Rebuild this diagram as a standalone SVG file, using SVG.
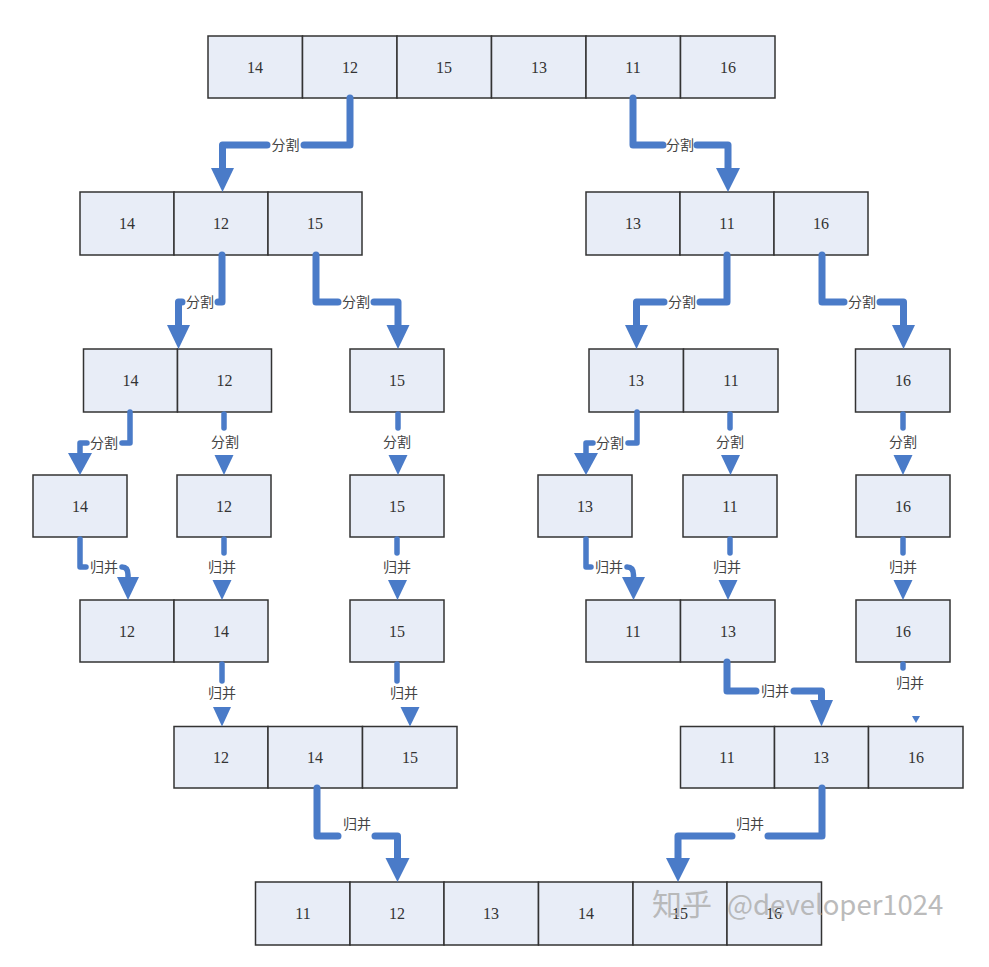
<svg xmlns="http://www.w3.org/2000/svg" width="989" height="967" viewBox="0 0 989 967">
<style>
.c{fill:#e8edf7;stroke:#333;stroke-width:1.5}
.n{font-family:"Liberation Serif",serif;font-size:16px;fill:#333;text-anchor:middle}
.l{font-family:"Noto Sans CJK SC",sans-serif;font-size:14px;fill:#444;text-anchor:middle}
.w{fill:none;stroke:#4a7bc8;stroke-width:7;stroke-linejoin:round;stroke-linecap:round}
.t{fill:none;stroke:#4a7bc8;stroke-width:5.5;stroke-linejoin:round;stroke-linecap:round}
.h{fill:#4a7bc8}
.wm{font-family:"Noto Sans CJK SC",sans-serif;fill:#b0b0b0;opacity:0.85}
</style>
<rect width="989" height="967" fill="#fff"/>

<g id="row1">
<rect class="c" x="208" y="36" width="94.5" height="62"/><rect class="c" x="302.5" y="36" width="94.5" height="62"/><rect class="c" x="397" y="36" width="94.5" height="62"/><rect class="c" x="491.5" y="36" width="94.5" height="62"/><rect class="c" x="586" y="36" width="94.5" height="62"/><rect class="c" x="680.5" y="36" width="94.5" height="62"/>
<text class="n" x="255" y="72.5">14</text><text class="n" x="350" y="72.5">12</text><text class="n" x="444" y="72.5">15</text><text class="n" x="539" y="72.5">13</text><text class="n" x="633" y="72.5">11</text><text class="n" x="728" y="72.5">16</text>
</g>

<g id="row2-left">
<rect class="c" x="80" y="192" width="94" height="63"/><rect class="c" x="174" y="192" width="94" height="63"/><rect class="c" x="268" y="192" width="94" height="63"/>
<text class="n" x="127" y="229">14</text><text class="n" x="221" y="229">12</text><text class="n" x="315" y="229">15</text>
</g>
<g id="row2-right">
<rect class="c" x="586" y="192" width="94" height="63"/><rect class="c" x="680" y="192" width="94" height="63"/><rect class="c" x="774" y="192" width="94" height="63"/>
<text class="n" x="633" y="229">13</text><text class="n" x="727" y="229">11</text><text class="n" x="821" y="229">16</text>
</g>

<g id="row3-a">
<rect class="c" x="83.5" y="349" width="94" height="63"/><rect class="c" x="177.5" y="349" width="94" height="63"/>
<text class="n" x="130.5" y="386">14</text><text class="n" x="224.5" y="386">12</text>
</g>
<g id="row3-b">
<rect class="c" x="350" y="349" width="94" height="63"/><text class="n" x="397" y="386">15</text>
</g>
<g id="row3-c">
<rect class="c" x="589" y="349" width="94.5" height="63"/><rect class="c" x="683.5" y="349" width="94.5" height="63"/>
<text class="n" x="636" y="386">13</text><text class="n" x="731" y="386">11</text>
</g>
<g id="row3-d">
<rect class="c" x="855.5" y="349" width="94.5" height="63"/><text class="n" x="903" y="386">16</text>
</g>

<g id="row4-a"><rect class="c" x="33" y="475" width="94" height="62"/><text class="n" x="80" y="511.5">14</text></g>
<g id="row4-b"><rect class="c" x="177" y="475" width="94" height="62"/><text class="n" x="224" y="511.5">12</text></g>
<g id="row4-c"><rect class="c" x="350" y="475" width="94" height="62"/><text class="n" x="397" y="511.5">15</text></g>
<g id="row4-d"><rect class="c" x="538" y="475" width="94" height="62"/><text class="n" x="585" y="511.5">13</text></g>
<g id="row4-e"><rect class="c" x="683" y="475" width="94" height="62"/><text class="n" x="730" y="511.5">11</text></g>
<g id="row4-f"><rect class="c" x="856" y="475" width="94" height="62"/><text class="n" x="903" y="511.5">16</text></g>

<g id="row5-a">
<rect class="c" x="80" y="600" width="94" height="62"/><rect class="c" x="174" y="600" width="94" height="62"/>
<text class="n" x="127" y="636.5">12</text><text class="n" x="221" y="636.5">14</text>
</g>
<g id="row5-b"><rect class="c" x="350" y="600" width="94" height="62"/><text class="n" x="397" y="636.5">15</text></g>
<g id="row5-c">
<rect class="c" x="586" y="600" width="94.5" height="62"/><rect class="c" x="680.5" y="600" width="94.5" height="62"/>
<text class="n" x="633" y="636.5">11</text><text class="n" x="728" y="636.5">13</text>
</g>
<g id="row5-d"><rect class="c" x="856" y="600" width="94" height="62"/><text class="n" x="903" y="636.5">16</text></g>

<g id="row6-left">
<rect class="c" x="174" y="726.5" width="94" height="61.5"/><rect class="c" x="268" y="726.5" width="94.5" height="61.5"/><rect class="c" x="362.5" y="726.5" width="94.5" height="61.5"/>
<text class="n" x="221" y="762.5">12</text><text class="n" x="315" y="762.5">14</text><text class="n" x="410" y="762.5">15</text>
</g>
<g id="row6-right">
<rect class="c" x="680.5" y="726.5" width="94" height="61.5"/><rect class="c" x="774.5" y="726.5" width="94" height="61.5"/><rect class="c" x="868.5" y="726.5" width="94.5" height="61.5"/>
<text class="n" x="727" y="762.5">11</text><text class="n" x="821" y="762.5">13</text><text class="n" x="916" y="762.5">16</text>
</g>

<g id="row7">
<rect class="c" x="255.5" y="882" width="94.5" height="63"/><rect class="c" x="350" y="882" width="94" height="63"/><rect class="c" x="444" y="882" width="94.5" height="63"/><rect class="c" x="538.5" y="882" width="94.5" height="63"/><rect class="c" x="633" y="882" width="94" height="63"/><rect class="c" x="727" y="882" width="94.5" height="63"/>
<text class="n" x="303" y="919">11</text><text class="n" x="397" y="919">12</text><text class="n" x="491" y="919">13</text><text class="n" x="586" y="919">14</text><text class="n" x="680" y="919">15</text><text class="n" x="774" y="919">16</text>
</g>

<g id="connectors">
<path class="w" d="M350,98 V145 H304 M267,145 H222.5 V170"/>
<polygon class="h" points="211,168 234,168 222.5,192"/>
<text class="l" x="285.5" y="150">分割</text>
<path class="w" d="M633,98 V145 H663 M697,145 H728 V170"/>
<polygon class="h" points="716,168 740,168 728,192"/>
<text class="l" x="680" y="150">分割</text>

<path class="w" d="M222,255 V302 H218 M182,302 H178.5 V327"/>
<polygon class="h" points="167,325 190,325 178.5,349"/>
<text class="l" x="200" y="307">分割</text>
<path class="w" d="M316,255 V302 H338 M374,302 H398 V327"/>
<polygon class="h" points="386.5,325 409.5,325 398,349"/>
<text class="l" x="356" y="307">分割</text>
<path class="w" d="M727,255 V302 H700 M664,302 H636.5 V327"/>
<polygon class="h" points="625,325 648,325 636.5,349"/>
<text class="l" x="682" y="307">分割</text>
<path class="w" d="M822,255 V302 H844 M880,302 H903.5 V327"/>
<polygon class="h" points="892,325 915,325 903.5,349"/>
<text class="l" x="862" y="307">分割</text>

<path class="t" d="M130,412 V443 H122 M87,443 H80 V455"/>
<polygon class="h" points="68,453 92,453 80,475"/>
<text class="l" x="104" y="448">分割</text>
<path class="t" d="M224,414 V428"/>
<polygon class="h" points="214.5,455 233.5,455 224,475"/>
<text class="l" x="225" y="447">分割</text>
<path class="t" d="M398,414 V428"/>
<polygon class="h" points="388.5,455 407.5,455 398,475"/>
<text class="l" x="397" y="447">分割</text>
<path class="t" d="M637,412 V443 H628 M593,443 H586 V455"/>
<polygon class="h" points="574,453 598,453 586,475"/>
<text class="l" x="610" y="448">分割</text>
<path class="t" d="M730,414 V428"/>
<polygon class="h" points="721,455 740,455 730.5,475"/>
<text class="l" x="730" y="447">分割</text>
<path class="t" d="M903,414 V428"/>
<polygon class="h" points="893.5,455 912.5,455 903,475"/>
<text class="l" x="903" y="447">分割</text>

<path class="t" d="M80,539 V567 H86 M122,567 Q128,567 128,575 V580"/>
<polygon class="h" points="117,577 139,577 128,600"/>
<text class="l" x="104" y="572">归并</text>
<path class="t" d="M224,539 V553"/>
<polygon class="h" points="212.5,580 231.5,580 222,600"/>
<text class="l" x="222" y="572">归并</text>
<path class="t" d="M397,539 V553"/>
<polygon class="h" points="388,580 407,580 397.5,600"/>
<text class="l" x="397" y="572">归并</text>
<path class="t" d="M586,539 V567 H591 M627,567 Q633.5,567 633.5,575 V580"/>
<polygon class="h" points="622,577 645,577 633.5,600"/>
<text class="l" x="609" y="572">归并</text>
<path class="t" d="M730,539 V553"/>
<polygon class="h" points="718.5,580 737.5,580 728,600"/>
<text class="l" x="727" y="572">归并</text>
<path class="t" d="M903,539 V553"/>
<polygon class="h" points="893.5,580 912.5,580 903,600"/>
<text class="l" x="903" y="572">归并</text>

<path class="t" d="M222,664 V681"/>
<polygon class="h" points="213,707 231,707 222,726.5"/>
<text class="l" x="222" y="698">归并</text>
<path class="t" d="M397,664 V681"/>
<polygon class="h" points="400.5,707 419.5,707 410,726.5"/>
<text class="l" x="404" y="698">归并</text>
<path class="w" d="M727,662 V691 H756 M794,691 H821.5 V702"/>
<polygon class="h" points="810,700 833,700 821.5,726.5"/>
<text class="l" x="775" y="696">归并</text>
<path class="t" d="M903,664 V668"/>
<polygon class="h" points="912,716 920,716 916,723"/>
<text class="l" x="910" y="688">归并</text>

<path class="w" d="M317,788 V836 H338 M375,836 H397.5 V860"/>
<polygon class="h" points="385.5,858 409.5,858 397.5,882"/>
<text class="l" x="357" y="829">归并</text>
<path class="w" d="M822,788 V836 H768 M732,836 H678 V860"/>
<polygon class="h" points="666,858 690,858 678,882"/>
<text class="l" x="750" y="829">归并</text>
</g>

<text class="wm" x="652" y="915"><tspan font-size="30">知乎</tspan><tspan x="727" font-size="27.5">@developer1024</tspan></text>
</svg>
